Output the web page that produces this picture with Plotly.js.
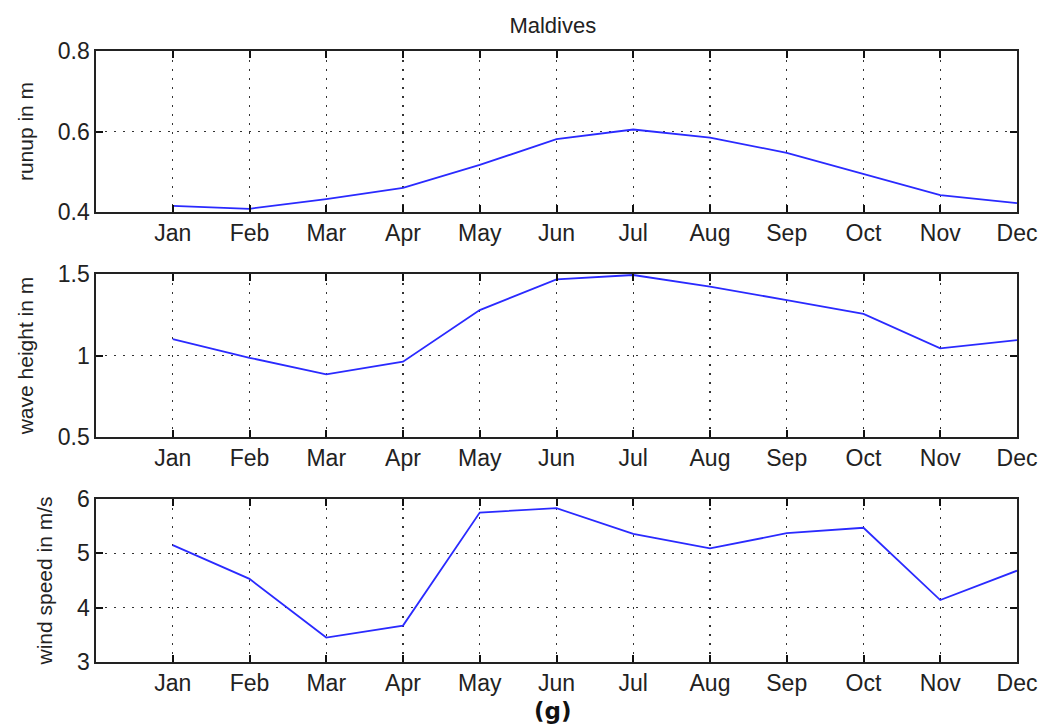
<!DOCTYPE html>
<html>
<head>
<meta charset="utf-8">
<script src="https://cdn.plot.ly/plotly-3.0.1.min.js"></script>
<style>html,body{margin:0;padding:0;background:#fff;}#chart{width:1060px;height:725px;}</style>
</head>
<body>
<div id="chart"></div>
<script>
const months = ["Jan","Feb","Mar","Apr","May","Jun","Jul","Aug","Sep","Oct","Nov","Dec"];
const monthIndex = [1,2,3,4,5,6,7,8,9,10,11,12];
const runup = [0.415,0.408,0.432,0.460,0.517,0.581,0.605,0.585,0.547,0.494,0.442,0.422];
const waveHeight = [1.10,0.986,0.885,0.962,1.279,1.467,1.494,1.422,1.340,1.255,1.044,1.095];
const windSpeed = [5.15,4.53,3.45,3.67,5.75,5.83,5.36,5.09,5.37,5.47,4.14,4.68];
const runupTicks = [0.4,0.6,0.8];
const waveTicks = [0.5,1,1.5];
const windTicks = [3,4,5,6];

const lineStyle = {color:'#2a2aff', width:1.8};
const tickFont = {family:'Liberation Sans, Arial, sans-serif', size:23, color:'#222'};
const titleFont = {family:'Liberation Sans, Arial, sans-serif', size:21, color:'#222'};
const gridDash = '2px,7px';

function xax(anchor){
  return {
    anchor: anchor, range:[0,12], tickmode:'array', tickvals: monthIndex, ticktext: months,
    ticks:'inside', ticklen:7, tickwidth:2, tickcolor:'#111', mirror:'ticks',
    showline:true, linecolor:'#222', linewidth:1.6,
    showgrid:true, gridcolor:'#333', griddash:gridDash, gridwidth:1.2,
    zeroline:false, tickfont: tickFont, fixedrange:true
  };
}
function yax(anchor, domain, range, ticks, title){
  return {
    anchor: anchor, domain: domain, range: range, tickmode:'array', tickvals: ticks,
    ticks:'inside', ticklen:7, tickwidth:2, tickcolor:'#111', mirror:'ticks',
    showline:true, linecolor:'#222', linewidth:1.6,
    showgrid:true, gridcolor:'#333', griddash:gridDash, gridwidth:1.2,
    zeroline:false, tickfont: tickFont, ticksuffix:' ',
    title:{text:title, font:titleFont, standoff:18}
  };
}

const data = [
  {x: monthIndex, y: runup, type:'scatter', mode:'lines', line: lineStyle, xaxis:'x', yaxis:'y', showlegend:false},
  {x: monthIndex, y: waveHeight, type:'scatter', mode:'lines', line: lineStyle, xaxis:'x2', yaxis:'y2', showlegend:false},
  {x: monthIndex, y: windSpeed, type:'scatter', mode:'lines', line: lineStyle, xaxis:'x3', yaxis:'y3', showlegend:false}
];

const layout = {
  width:1060, height:725,
  paper_bgcolor:'#fff', plot_bgcolor:'#fff',
  margin:{l:96, r:43, t:51, b:63},
  title:{text:'Maldives', font:{family:'Liberation Sans, Arial, sans-serif', size:22, color:'#222'},
         x:0.496, xref:'paper', xanchor:'center', y:1-25/725, yref:'container', yanchor:'middle'},
  xaxis: xax('y'),
  yaxis: yax('x', [0.7365,1], [0.4,0.8], runupTicks, 'runup in m'),
  xaxis2: xax('y2'),
  yaxis2: yax('x2', [0.3682,0.635], [0.5,1.5], waveTicks, 'wave height in m'),
  xaxis3: xax('y3'),
  yaxis3: yax('x3', [0,0.2668], [3,6], windTicks, 'wind speed in m/s'),
  annotations:[
    {text:'<b>(g)</b>', xref:'paper', yref:'paper', x:0.496, y:(662-711)/611, xanchor:'center', yanchor:'middle',
     showarrow:false, borderpad:0, font:{family:'DejaVu Sans, sans-serif', size:23, color:'#111'}}
  ]
};

Plotly.newPlot('chart', data, layout, {displayModeBar:false, staticPlot:true});
</script>
</body>
</html>
